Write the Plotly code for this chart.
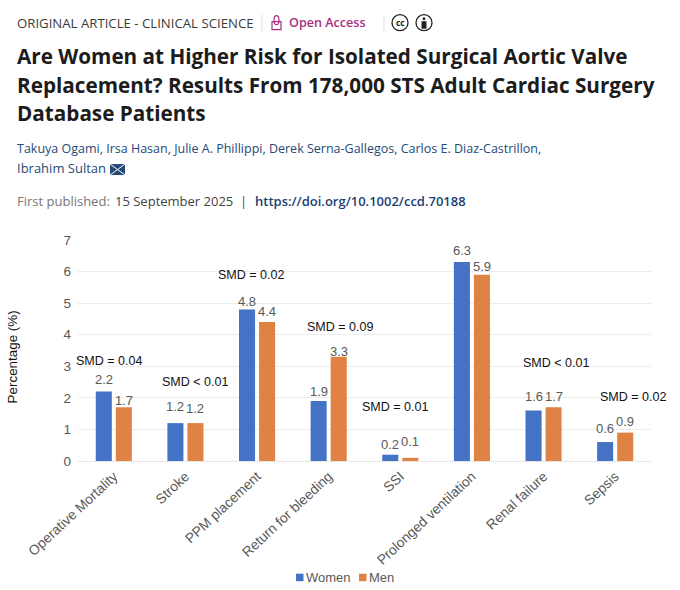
import plotly.graph_objects as go

# chart data
categories = ['Operative Mortality', 'Stroke', 'PPM placement', 'Return for bleeding', 'SSI',
              'Prolonged ventilation', 'Renal failure', 'Sepsis']
women = [2.2, 1.2, 4.8, 1.9, 0.2, 6.3, 1.6, 0.6]
men = [1.7, 1.2, 4.4, 3.3, 0.1, 5.9, 1.7, 0.9]
smd_labels = ['SMD = 0.04', 'SMD < 0.01', 'SMD = 0.02', 'SMD = 0.09', 'SMD = 0.01',
              'SMD = 0.02', 'SMD < 0.01', 'SMD = 0.02']

# header text
authors_1 = 'Takuya Ogami, Irsa Hasan, Julie A. Phillippi, Derek Serna-Gallegos, Carlos E. Diaz-Castrillon,'
authors_2 = 'Ibrahim Sultan'
title_lines = ['Are Women at Higher Risk for Isolated Surgical Aortic Valve',
               'Replacement? Results From 178,000 STS Adult Cardiac Surgery',
               'Database Patients']

W, H = 680, 590
L, R, T, B = 78, 651, 239.5, 460.7
CHART_FONT = 'Liberation Sans'
HEAD_FONT = 'Open Sans'
BLUE, ORANGE = '#4472C4', '#E08243'


# the header is page furniture, so it is placed by pixel
def px(x):
    return (x - L) / (R - L)


def py(y):
    return (B - y) / (B - T)


fig = go.Figure()
fig.add_bar(x=categories, y=women, name='Women', marker=dict(color=BLUE, line=dict(width=0)))
fig.add_bar(x=categories, y=men, name='Men', marker=dict(color=ORANGE, line=dict(width=0)))

annotations = []


def head_text(x, y, text, size, color, weight=400, anchor='left', font=HEAD_FONT):
    annotations.append(dict(xref='paper', yref='paper', x=px(x), y=py(y), text=text, showarrow=False,
                            xanchor=anchor, yanchor='middle', align='left',
                            font=dict(family=font, size=size, color=color, weight=weight)))


head_text(15, 22, 'ORIGINAL ARTICLE - CLINICAL SCIENCE', 13.2, '#3a3a3a')
head_text(287, 22, 'Open Access', 12.6, '#a8307f', weight=600)
for line, y in zip(title_lines, [55, 84, 112]):
    head_text(15, y, line, 20.7, '#1c1c1c', weight=700)
head_text(15, 148, authors_1, 12.5, '#264a78')
head_text(15, 167, authors_2, 13, '#264a78')
head_text(15, 200, 'First published:', 13, '#777777')
head_text(113, 200, '15 September 2025  |', 13, '#444444')
head_text(253, 200, 'https://doi.org/10.1002/ccd.70188', 13, '#1c3f73', weight=600)
head_text(400, 22, 'cc', 8.5, '#222222', weight=700, anchor='center')

# data labels sit at slightly uneven heights in the original
women_lift = [12, 17, 8, 10, 10, 11.5, 14, 13.5]
men_lift = [6.5, 14.5, 10.5, 5, 16, 8, 10.5, 11.5]
for cat, val, lift in zip(categories, women, women_lift):
    annotations.append(dict(x=cat, y=val, text=str(val), showarrow=False, xshift=-10, yshift=lift,
                            yanchor='middle', font=dict(family=CHART_FONT, size=13, color='#595959')))
for cat, val, lift in zip(categories, men, men_lift):
    annotations.append(dict(x=cat, y=val, text=str(val), showarrow=False, xshift=10, yshift=lift,
                            yanchor='middle', font=dict(family=CHART_FONT, size=13, color='#595959')))

# SMD notes float freely above each group
smd_y = [3.16, 2.49, 5.88, 4.23, 1.70, 7.52, 3.12, 2.02]
smd_dx = [-5, 10, -6, 11, -5, 6, 12, 18]
for cat, label, y, dx in zip(categories, smd_labels, smd_y, smd_dx):
    annotations.append(dict(x=cat, y=y, text=label.replace('<', '&lt;'), showarrow=False, xshift=dx,
                            yanchor='middle', font=dict(family=CHART_FONT, size=12.5, color='#111111')))

# y axis title
annotations.append(dict(xref='paper', yref='paper', x=px(12), y=py(357), text='Percentage (%)', showarrow=False,
                        textangle=-90, xanchor='center', yanchor='middle',
                        font=dict(family=CHART_FONT, size=13.4, color='#111111')))

# legend sits tight to its swatches, tighter than the plotly legend allows
head_text(304, 577, 'Women', 13, '#595959', font=CHART_FONT)
head_text(367, 577, 'Men', 13, '#595959', font=CHART_FONT)


def pixel_shape(kind, x0, y0, x1, y1, **kw):
    return dict(type=kind, xref='paper', yref='paper', x0=px(x0), y0=py(y0), x1=px(x1), y1=py(y1), **kw)


thin = dict(color='#222222', width=1.3)
shapes = [
    # separators
    pixel_shape('line', 262, 14, 262, 31, line=dict(color='#dddddd', width=1)),
    pixel_shape('line', 384, 14, 384, 31, line=dict(color='#dddddd', width=1)),
    # padlock
    pixel_shape('rect', 272, 21, 281, 29, line=dict(color='#a8307f', width=1.2)),
    pixel_shape('circle', 274, 15, 279, 24, line=dict(color='#a8307f', width=1.2), layer='below'),
    # cc and person badges
    pixel_shape('circle', 392, 14, 408, 30, line=thin),
    pixel_shape('circle', 416, 14, 432, 30, line=thin),
    pixel_shape('circle', 422.5, 16.5, 425.5, 19.5, fillcolor='#222222', line=dict(width=0)),
    pixel_shape('rect', 421.5, 20.5, 426.5, 28, fillcolor='#222222', line=dict(width=0)),
    # mail icon
    pixel_shape('rect', 110, 163.5, 125, 174.5, fillcolor='#264a78', line=dict(width=0)),
    pixel_shape('line', 110, 163.5, 125, 174.5, line=dict(color='white', width=1)),
    pixel_shape('line', 125, 163.5, 110, 174.5, line=dict(color='white', width=1)),
    # legend swatches
    pixel_shape('rect', 296, 573.5, 303.5, 581, fillcolor=BLUE, line=dict(width=0)),
    pixel_shape('rect', 359, 573.5, 366.5, 581, fillcolor=ORANGE, line=dict(width=0)),
]

fig.update_layout(
    width=W, height=H,
    margin=dict(l=L, r=W - R, t=T, b=H - B, pad=0, autoexpand=False),
    paper_bgcolor='white', plot_bgcolor='white',
    barmode='group', bargap=0.44, bargroupgap=0.2,
    font=dict(family=CHART_FONT, color='#595959'),
    showlegend=False,
    annotations=annotations, shapes=shapes,
)
fig.update_xaxes(range=[-0.5, 7.5], tickangle=-43, tickfont=dict(family=CHART_FONT, size=13.8, color='#595959'),
                 showgrid=False, showline=True, linecolor='#e6e6e6', linewidth=1, ticks='', ticklabelstandoff=1)
fig.update_yaxes(range=[0, 7], dtick=1, tickfont=dict(family=CHART_FONT, size=13.5, color='#595959'),
                 gridcolor='#ececec', gridwidth=1, zeroline=False, showline=False, ticks='', ticklabelstandoff=6)

fig.write_html('out.html', config=dict(displayModeBar=False),
               post_script="document.body.style.margin='0';document.documentElement.style.overflow='hidden';")
